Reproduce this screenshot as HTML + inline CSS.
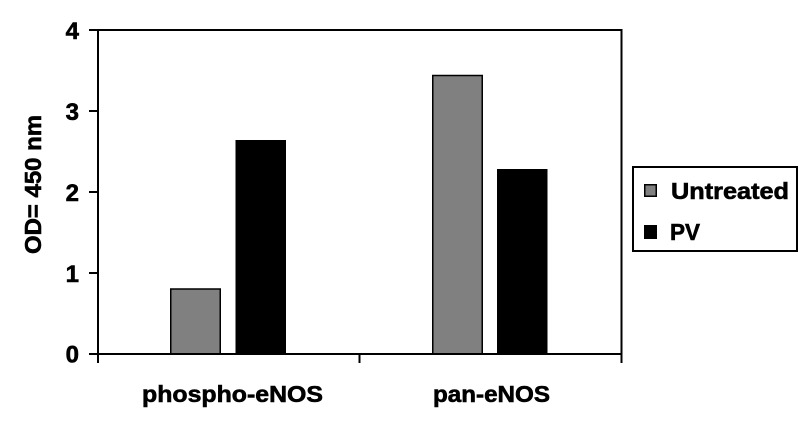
<!DOCTYPE html>
<html>
<head>
<meta charset="utf-8">
<style>
  html, body { margin: 0; padding: 0; background: #ffffff; }
  body { width: 809px; height: 430px; overflow: hidden; }
  svg { display: block; }
  text { font-family: "Liberation Sans", Arial, sans-serif; font-weight: bold; fill: #000; stroke: #000; stroke-width: 0.6px; }
</style>
</head>
<body>
<svg width="809" height="430" viewBox="0 0 809 430" xmlns="http://www.w3.org/2000/svg">
  <rect x="0" y="0" width="809" height="430" fill="#ffffff"/>

  <!-- Bars -->
  <rect x="170.75" y="289" width="49.5" height="65" fill="#808080" stroke="#000" stroke-width="1.5"/>
  <rect x="235.5" y="140" width="50.5" height="214" fill="#000"/>
  <rect x="432.75" y="75.5" width="49.5" height="278.5" fill="#808080" stroke="#000" stroke-width="1.5"/>
  <rect x="497" y="169" width="50.5" height="185" fill="#000"/>

  <!-- Plot frame -->
  <line x1="98" y1="30" x2="622" y2="30" stroke="#000" stroke-width="2"/>
  <line x1="621.5" y1="29" x2="621.5" y2="363" stroke="#000" stroke-width="2"/>
  <line x1="98" y1="29" x2="98" y2="363" stroke="#000" stroke-width="2"/>
  <line x1="89" y1="354" x2="622" y2="354" stroke="#000" stroke-width="2"/>

  <!-- Y ticks -->
  <line x1="89" y1="30" x2="98" y2="30" stroke="#000" stroke-width="2"/>
  <line x1="89" y1="111" x2="98" y2="111" stroke="#000" stroke-width="2"/>
  <line x1="89" y1="192" x2="98" y2="192" stroke="#000" stroke-width="2"/>
  <line x1="89" y1="273" x2="98" y2="273" stroke="#000" stroke-width="2"/>

  <!-- X middle tick -->
  <line x1="359.5" y1="354" x2="359.5" y2="363" stroke="#000" stroke-width="2"/>

  <!-- Y tick labels -->
  <text x="79" y="39" font-size="24" text-anchor="end">4</text>
  <text x="79" y="120" font-size="24" text-anchor="end">3</text>
  <text x="79" y="201" font-size="24" text-anchor="end">2</text>
  <text x="79" y="282" font-size="24" text-anchor="end">1</text>
  <text x="79" y="362.5" font-size="24" text-anchor="end">0</text>

  <!-- Y axis label -->
  <text x="0" y="0" font-size="23" transform="translate(41,254) rotate(-90)" textLength="139" lengthAdjust="spacingAndGlyphs">OD= 450 nm</text>

  <!-- X category labels -->
  <text x="142" y="402" font-size="23" textLength="181" lengthAdjust="spacingAndGlyphs">phospho-eNOS</text>
  <text x="433" y="402" font-size="23" textLength="117" lengthAdjust="spacingAndGlyphs">pan-eNOS</text>

  <!-- Legend -->
  <rect x="633" y="167" width="164" height="84" fill="#fff" stroke="#000" stroke-width="2"/>
  <rect x="644.75" y="184.75" width="11.5" height="11.5" fill="#808080" stroke="#000" stroke-width="1.5"/>
  <text x="671" y="199" font-size="23" textLength="118" lengthAdjust="spacingAndGlyphs">Untreated</text>
  <rect x="644" y="225" width="13" height="14" fill="#000"/>
  <text x="670" y="240" font-size="23" textLength="30" lengthAdjust="spacingAndGlyphs">PV</text>
</svg>
</body>
</html>
